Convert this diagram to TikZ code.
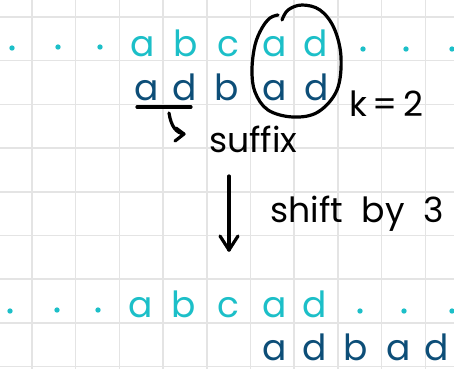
\documentclass[tikz,border=0pt]{standalone}
\usepackage{fontspec}
\newfontfamily\hand{Poppins}
\usetikzlibrary{arrows.meta}
\definecolor{gridc}{HTML}{E4E4E4}
\definecolor{cyanl}{HTML}{1CBFC8}
\definecolor{darkl}{HTML}{0D4E78}
\tikzset{
  lt/.style={font=\hand\fontsize{27}{27}\selectfont, inner sep=0pt, anchor=base},
  cy/.style={lt, text=cyanl},
  dk/.style={lt, text=darkl},
  dotc/.style={fill=cyanl, circle, inner sep=0pt, minimum size=4pt},
  ink/.style={line width=2.4pt, line cap=round, line join=round, black},
  note/.style={font=\hand\fontsize{26}{26}\selectfont, inner sep=0pt, anchor=base west, text=black},
}
\begin{document}
\begin{tikzpicture}[x=0.75pt, y=-0.75pt]
\useasboundingbox (0,0) rectangle (454,369);
\fill[white] (0,0) rectangle (454,369);
% grid
\foreach \gx in {32,75.7,119.4,163.1,206.8,250.5,294.2,337.9,381.6,425.3}
  \draw[gridc, line width=1.1pt] (\gx,0) -- (\gx,369);
\foreach \gy in {17,60.7,104.4,148.1,191.8,235.5,279.2,322.9,366.6}
  \draw[gridc, line width=1.1pt] (0,\gy) -- (454,\gy);
% top row
\node[dotc] (t1) at (12,48) {};
\node[dotc] (t2) at (58,47) {};
\node[dotc] (t3) at (100,47) {};
\node[cy] (ta1) at (143,56) {a};
\node[cy] (tb) at (186,56) {b};
\node[cy] (tc) at (228,56) {c};
\node[cy] (ta2) at (275,56) {a};
\node[cy] (td) at (316,56) {d};
\node[dotc] (t4) at (363,49) {};
\node[dotc] (t5) at (406,49) {};
\node[dotc] (t6) at (452,49) {};
% second row
\node[dk] (pa1) at (147,100) {a};
\node[dk] (pd1) at (185,100) {d};
\node[dk] (pb) at (227,100) {b};
\node[dk] (pa2) at (275,100) {a};
\node[dk] (pd2) at (317,100) {d};
% underline and curved arrow
\coordinate (u1) at (137,107);
\coordinate (u2) at (191,107);
\draw[ink] (u1) -- (u2);
\coordinate (c0) at (169,113);
\coordinate (c1) at (184,134);
\draw[ink] (c0) .. controls (171,126) and (176,133) .. (c1);
\draw[ink] (176,128) -- (c1) -- (175,141);
\node[note] (suf) at (209,152) {suffix};
% ellipse
\draw[ink] plot[smooth, tension=0.6] coordinates {(282,20) (288,10) (302,5) (320,10) (334,28) (341,57) (337,90) (318,112) (293,117) (268,110) (255,92) (252,70) (255,45) (262,28) (270,18) (278,15)};
\node[note] (k) at (349,116) {k\,=\,2};
% vertical arrow
\coordinate (v0) at (229,176);
\coordinate (v1) at (229,250);
\draw[ink] (v0) -- (v1);
\draw[ink] (220,236) -- (v1) -- (238,236);
\node[note] (sh) at (270,222) {shift\ \ by\ \ 3};
% bottom row
\node[dotc] (b1) at (10,311) {};
\node[dotc] (b2) at (57,310) {};
\node[dotc] (b3) at (98,310) {};
\node[cy] (ba1) at (141,317) {a};
\node[cy] (bb) at (184,317) {b};
\node[cy] (bc) at (228,317) {c};
\node[cy] (ba2) at (275,317) {a};
\node[cy] (bd) at (315,317) {d};
\node[dotc] (b4) at (360,311) {};
\node[dotc] (b5) at (404,311) {};
\node[dotc] (b6) at (452,311) {};
% shifted pattern
\node[dk] (qa1) at (275,360) {a};
\node[dk] (qd1) at (315,360) {d};
\node[dk] (qb) at (356,360) {b};
\node[dk] (qa2) at (399,360) {a};
\node[dk] (qd2) at (437,360) {d};
\end{tikzpicture}
\end{document}
